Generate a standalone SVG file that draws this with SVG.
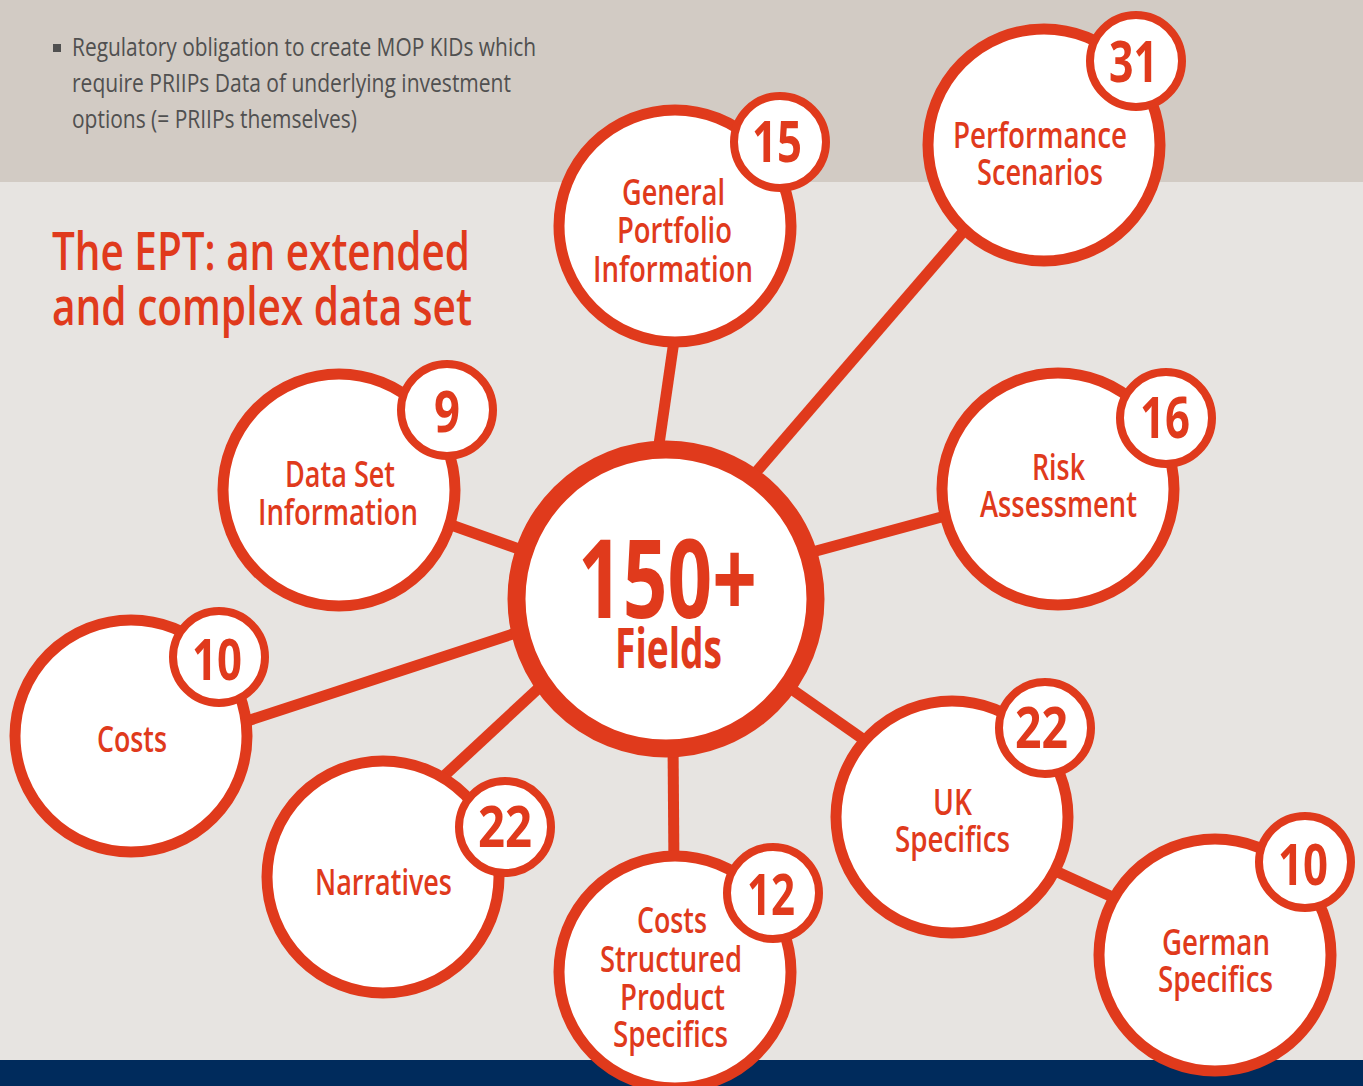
<svg xmlns="http://www.w3.org/2000/svg" width="1363" height="1086" viewBox="0 0 1363 1086">
<style>
.ring{fill:#fff;stroke:#e03a1c;stroke-width:11}
.badge{fill:#fff;stroke:#e03a1c;stroke-width:8}
.hub{fill:#fff;stroke:#e03a1c;stroke-width:18}
.lbl{font-family:"Open Sans","Liberation Sans",sans-serif;font-size:36px;font-weight:600;fill:#e03a1c}
.num{font-family:"Open Sans","Liberation Sans",sans-serif;font-size:58px;font-weight:700;fill:#e03a1c}
.conn line{stroke:#e03a1c;stroke-width:11}
.body{font-family:"Open Sans","Liberation Sans",sans-serif;font-size:25px;fill:#505050}
.title{font-family:"Open Sans","Liberation Sans",sans-serif;font-size:53px;font-weight:600;fill:#e03a1c}
</style>
<rect x="0" y="0" width="1363" height="1086" fill="#e7e4e1"/>
<rect x="0" y="0" width="1363" height="182" fill="#d2cbc4"/>
<rect x="0" y="1060" width="1363" height="26" fill="#002b5c"/>

<g id="intro">
<rect x="53" y="44" width="8" height="8" fill="#505050"/>
<text class="body"><tspan x="72" y="56" textLength="464" lengthAdjust="spacingAndGlyphs">Regulatory obligation to create MOP KIDs which</tspan><tspan x="72" y="92" textLength="439" lengthAdjust="spacingAndGlyphs">require PRIIPs Data of underlying investment</tspan><tspan x="72" y="128" textLength="285" lengthAdjust="spacingAndGlyphs">options (= PRIIPs themselves)</tspan></text>
</g>

<g id="title">
<text class="title"><tspan x="52" y="270" textLength="418" lengthAdjust="spacingAndGlyphs">The EPT: an extended</tspan><tspan x="52" y="325" textLength="420" lengthAdjust="spacingAndGlyphs">and complex data set</tspan></text>
</g>

<g id="connectors" class="conn">
<line x1="677" y1="320" x2="656" y2="465"/>
<line x1="975" y1="218" x2="745" y2="485"/>
<line x1="805" y1="554" x2="960" y2="512"/>
<line x1="440" y1="521" x2="530" y2="553"/>
<line x1="235" y1="725" x2="525" y2="630"/>
<line x1="430" y1="789" x2="555" y2="673"/>
<line x1="673" y1="740" x2="674" y2="870"/>
<line x1="780" y1="681" x2="880" y2="751"/>
<line x1="1040" y1="864" x2="1130" y2="905"/>
</g>

<g id="hub">
<circle class="hub" cx="666" cy="599" r="149.5"/>
<text class="num"><tspan x="578" y="618" style="font-size:109px" textLength="179" lengthAdjust="spacingAndGlyphs">150+</tspan><tspan x="615" y="668" style="font-size:55px" textLength="107" lengthAdjust="spacingAndGlyphs">Fields</tspan></text>
</g>

<g id="node-general-portfolio">
<circle class="ring" cx="675" cy="226" r="116"/>
<text class="lbl"><tspan x="622" y="205" textLength="103" lengthAdjust="spacingAndGlyphs">General</tspan><tspan x="617" y="243" textLength="115" lengthAdjust="spacingAndGlyphs">Portfolio</tspan><tspan x="593" y="282" textLength="160" lengthAdjust="spacingAndGlyphs">Information</tspan></text>
<circle class="badge" cx="780" cy="142" r="46"/>
<text class="num" x="752" y="162" textLength="50" lengthAdjust="spacingAndGlyphs">15</text>
</g>

<g id="node-performance">
<circle class="ring" cx="1044" cy="145" r="116"/>
<text class="lbl"><tspan x="953" y="148" textLength="174" lengthAdjust="spacingAndGlyphs">Performance</tspan><tspan x="977" y="185" textLength="126" lengthAdjust="spacingAndGlyphs">Scenarios</tspan></text>
<circle class="badge" cx="1136" cy="61" r="46"/>
<text class="num" x="1109" y="82" textLength="49" lengthAdjust="spacingAndGlyphs">31</text>
</g>

<g id="node-data-set">
<circle class="ring" cx="339" cy="490" r="116"/>
<text class="lbl"><tspan x="285" y="487" textLength="110" lengthAdjust="spacingAndGlyphs">Data Set</tspan><tspan x="258" y="525" textLength="160" lengthAdjust="spacingAndGlyphs">Information</tspan></text>
<circle class="badge" cx="447" cy="410" r="46"/>
<text class="num" x="434" y="432" textLength="26" lengthAdjust="spacingAndGlyphs">9</text>
</g>

<g id="node-risk">
<circle class="ring" cx="1058" cy="489" r="116"/>
<text class="lbl"><tspan x="1032" y="480" textLength="53" lengthAdjust="spacingAndGlyphs">Risk</tspan><tspan x="980" y="517" textLength="157" lengthAdjust="spacingAndGlyphs">Assessment</tspan></text>
<circle class="badge" cx="1166" cy="418" r="46"/>
<text class="num" x="1140" y="438" textLength="50" lengthAdjust="spacingAndGlyphs">16</text>
</g>

<g id="node-costs">
<circle class="ring" cx="131" cy="736" r="116"/>
<text class="lbl" x="97" y="752" textLength="70" lengthAdjust="spacingAndGlyphs">Costs</text>
<circle class="badge" cx="219" cy="657" r="46"/>
<text class="num" x="192" y="680" textLength="50" lengthAdjust="spacingAndGlyphs">10</text>
</g>

<g id="node-narratives">
<circle class="ring" cx="383" cy="877" r="116"/>
<text class="lbl" x="315" y="895" textLength="137" lengthAdjust="spacingAndGlyphs">Narratives</text>
<circle class="badge" cx="505" cy="827" r="46"/>
<text class="num" x="478" y="847" textLength="54" lengthAdjust="spacingAndGlyphs">22</text>
</g>

<g id="node-costs-structured">
<circle class="ring" cx="675" cy="972" r="116"/>
<text class="lbl"><tspan x="637" y="933" textLength="70" lengthAdjust="spacingAndGlyphs">Costs</tspan><tspan x="600" y="972" textLength="142" lengthAdjust="spacingAndGlyphs">Structured</tspan><tspan x="620" y="1010" textLength="105" lengthAdjust="spacingAndGlyphs">Product</tspan><tspan x="613" y="1047" textLength="115" lengthAdjust="spacingAndGlyphs">Specifics</tspan></text>
<circle class="badge" cx="773" cy="893" r="46"/>
<text class="num" x="747" y="915" textLength="48" lengthAdjust="spacingAndGlyphs">12</text>
</g>

<g id="node-uk">
<circle class="ring" cx="952" cy="817" r="116"/>
<text class="lbl"><tspan x="933" y="815" textLength="39" lengthAdjust="spacingAndGlyphs">UK</tspan><tspan x="895" y="852" textLength="115" lengthAdjust="spacingAndGlyphs">Specifics</tspan></text>
<circle class="badge" cx="1045" cy="728" r="46"/>
<text class="num" x="1015" y="748" textLength="53" lengthAdjust="spacingAndGlyphs">22</text>
</g>

<g id="node-german">
<circle class="ring" cx="1215" cy="955" r="116"/>
<text class="lbl"><tspan x="1162" y="955" textLength="108" lengthAdjust="spacingAndGlyphs">German</tspan><tspan x="1158" y="992" textLength="115" lengthAdjust="spacingAndGlyphs">Specifics</tspan></text>
<circle class="badge" cx="1305" cy="862" r="46"/>
<text class="num" x="1278" y="885" textLength="50" lengthAdjust="spacingAndGlyphs">10</text>
</g>
</svg>
